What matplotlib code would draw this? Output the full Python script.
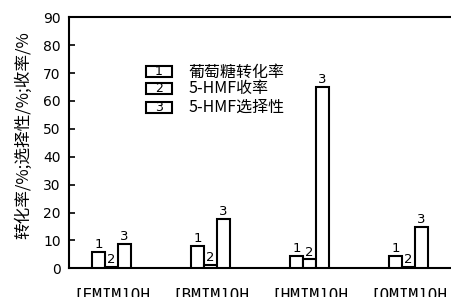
import matplotlib
matplotlib.use("Agg")
import matplotlib.pyplot as plt
import numpy as np
from matplotlib.patches import Rectangle

plt.rcParams['font.family'] = ['DejaVu Sans', 'Noto Sans CJK SC']

categories = ["[EMIM]OH", "[BMIM]OH", "[HMIM]OH", "[OMIM]OH"]
series_names = ["葡萄糖转化率", "5-HMF收率", "5-HMF选择性"]
conversion = [6.0, 8.0, 4.3, 4.3]
yield_hmf = [0.5, 1.2, 3.2, 0.6]
selectivity = [8.6, 17.6, 64.9, 14.9]
series = [conversion, yield_hmf, selectivity]
series_marks = ["1", "2", "3"]
yticks = [0, 10, 20, 30, 40, 50, 60, 70, 80, 90]

fig = plt.figure(figsize=(4.51, 2.97), dpi=100)
ax = fig.add_axes([0.153, 0.0966, 0.847, 0.8452])

x = np.arange(len(categories))
w = 0.13
for i, vals in enumerate(series):
    pos = x + (i - 1) * w
    ax.bar(pos, vals, width=w, facecolor='white', edgecolor='black', linewidth=1.5, zorder=3)
    for xp, v in zip(pos, vals):
        ax.text(xp, v + 0.3, series_marks[i], ha='center', va='bottom', fontsize=9.5, zorder=4)

ax.set_xlim(-0.43, 3.43)
ax.set_ylim(0, 90)
ax.set_yticks(yticks)
ax.set_yticklabels([str(t) for t in yticks], fontsize=10)
ax.tick_params(axis='y', direction='in', length=4, width=1.2, pad=6)
ax.set_xticks(x)
ax.set_xticklabels(categories, fontsize=11.5, family='DejaVu Sans Mono')
ax.tick_params(axis='x', length=0, pad=14)

for s in ['left', 'top', 'bottom']:
    ax.spines[s].set_linewidth(1.5)
ax.spines['right'].set_visible(False)

ax.set_ylabel("转化率/%;选择性/%;收率/%", family=['Noto Sans CJK SC', 'DejaVu Sans'], fontsize=12)
ax.yaxis.set_label_coords(-0.097, 0.53)

# legend
leg_x0 = (146 - 69) / 382
leg_w = 26 / 382
rows_y = [72, 88.7, 107.5]
for i, (name, mark) in enumerate(zip(series_names, series_marks)):
    yc = 1 - (rows_y[i] - 17.3) / 251.0
    h = 11 / 251.0
    ax.add_patch(Rectangle((leg_x0, yc - h / 2), leg_w, h, transform=ax.transAxes,
                           facecolor='white', edgecolor='black', linewidth=1.5, clip_on=False, zorder=5))
    ax.text(leg_x0 + leg_w / 2, yc, mark, transform=ax.transAxes, ha='center', va='center', fontsize=9, zorder=6)
    ax.text((188 - 69) / 382, yc, name, transform=ax.transAxes, ha='left', va='center', fontsize=11.5,
            family=['Noto Sans CJK SC', 'DejaVu Sans'], zorder=6)

fig.savefig("out.png", dpi=100)
